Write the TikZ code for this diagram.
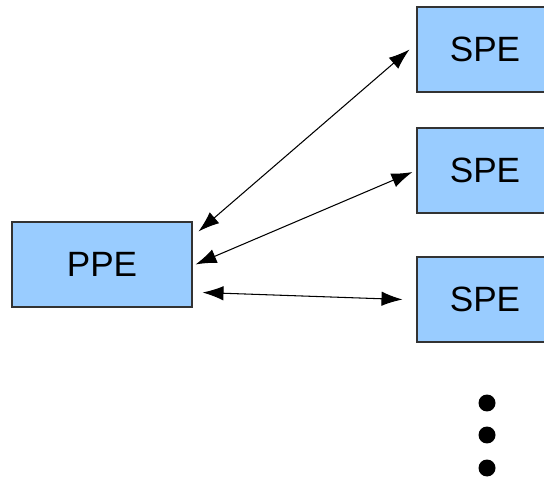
\documentclass[tikz,border=0pt]{standalone}
\usepackage{fontspec}
\setmainfont{Liberation Sans}
\usetikzlibrary{arrows.meta}
\definecolor{peblue}{HTML}{99CCFF}
\definecolor{peline}{HTML}{333333}
\tikzset{
	ppebox/.style = {draw=peline, fill=peblue, line width=0.6pt, rectangle,
		minimum width=3.6cm, minimum height=1.7cm, inner sep=0pt},
	spebox/.style = {ppebox, minimum width=2.72cm},
	link/.style   = {line width=0.6pt, {Latex[length=4.2mm,width=2.9mm]}-{Latex[length=4.2mm,width=2.9mm]}},
	dot/.style    = {circle, fill=black, minimum size=0.34cm, inner sep=0pt}
}

\begin{document}
\begin{tikzpicture}[x=0.02cm, y=-0.02cm, font=\fontsize{20}{23}\selectfont]
	\useasboundingbox (0,0) rectangle (544,479);
	\draw
	node at (102,264.5)[ppebox] (ppe) {PPE}
	node at (485,49.5)[spebox] (spe1) {SPE}
	node at (485,170.5)[spebox] (spe2) {SPE}
	node at (485,299.5)[spebox] (spe3) {SPE};

	\draw[link] ([shift={(6,10)}]ppe.north east) -- ([shift={(-7,0)}]spe1.west);
	\draw[link] ([shift={(3,0)}]ppe.east) -- ([shift={(-4,1.5)}]spe2.west);
	\draw[link] ([shift={(10,-15)}]ppe.south east) -- ([shift={(-14,0)}]spe3.west);

	\node at (487,403)[dot] (d1) {};
	\node at (487,435)[dot] (d2) {};
	\node at (487,468)[dot] (d3) {};
\end{tikzpicture}
\end{document}
